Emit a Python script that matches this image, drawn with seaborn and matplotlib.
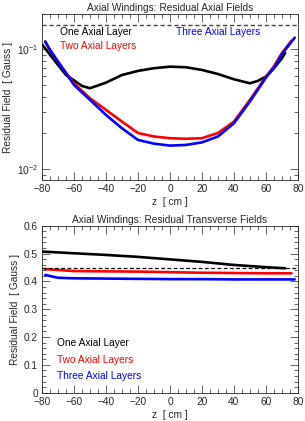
import numpy as np
import pandas as pd
import matplotlib
matplotlib.use("Agg")
import matplotlib.pyplot as plt
from matplotlib.ticker import MultipleLocator, LogLocator, NullFormatter, FixedLocator, FuncFormatter
import seaborn as sns

# top panel: residual axial field [Gauss], log scale
z_one_ax = [-80, -75, -70, -65, -60, -55, -50, -40, -30, -20, -10, 0, 10, 20, 30, 40, 50, 55, 60, 65, 70, 72]
b_one_ax = [0.110, 0.090, 0.074, 0.061, 0.055, 0.0494, 0.0473, 0.0527, 0.061, 0.066, 0.0695, 0.0716, 0.0708,
            0.0672, 0.0622, 0.0562, 0.052, 0.0545, 0.0592, 0.0695, 0.084, 0.093]
z_two_ax = [-78, -75, -70, -65, -60, -50, -40, -30, -20, -10, 0, 10, 20, 30, 40, 50, 60, 65, 70, 76]
b_two_ax = [0.116, 0.0987, 0.0789, 0.0638, 0.052, 0.039, 0.0312, 0.0249, 0.020, 0.0187, 0.0181, 0.0179,
            0.0181, 0.020, 0.0249, 0.0378, 0.059, 0.072, 0.093, 0.118]
z_three_ax = [-78, -75, -70, -65, -60, -50, -40, -30, -20, -10, 0, 10, 20, 30, 40, 50, 60, 65, 70, 78]
b_three_ax = [0.116, 0.0987, 0.0785, 0.063, 0.0504, 0.0378, 0.0283, 0.0219, 0.0175, 0.0163, 0.0157, 0.0159,
              0.0167, 0.0187, 0.0241, 0.0366, 0.058, 0.070, 0.091, 0.125]
axial_ref = 0.16

# bottom panel: residual transverse field [Gauss]
z_one_tr = [-80, -60, -40, -20, 0, 20, 40, 60, 72]
b_one_tr = [0.507, 0.501, 0.495, 0.488, 0.479, 0.470, 0.459, 0.451, 0.447]
z_two_tr = [-78, -60, -40, -20, 0, 20, 40, 60, 76]
b_two_tr = [0.444, 0.437, 0.436, 0.435, 0.433, 0.431, 0.430, 0.429, 0.429]
z_three_tr = [-78, -70, -60, -40, -20, 0, 20, 40, 60, 78]
b_three_tr = [0.423, 0.413, 0.411, 0.410, 0.409, 0.408, 0.408, 0.407, 0.407, 0.407]
trans_ref = 0.447

labels = ["One Axial Layer", "Two Axial Layers", "Three Axial Layers"]
colors = ["black", "red", "blue"]

FS = 7.3

sns.set_style("ticks")
plt.rcParams["font.family"] = ["Liberation Sans", "DejaVu Sans"]
plt.rcParams["mathtext.fontset"] = "custom"
plt.rcParams["mathtext.rm"] = "Liberation Sans"


def make_df(zs, bs):
    rows = []
    for lab, z, b in zip(labels, zs, bs):
        for zi, bi in zip(z, b):
            rows.append((lab, zi, bi))
    return pd.DataFrame(rows, columns=["layers", "z", "B"])


def style_axes(ax):
    ax.tick_params(which="both", direction="in", top=True, right=True, labelsize=FS, pad=3)
    ax.tick_params(which="major", length=6, width=0.5)
    ax.tick_params(which="minor", length=3, width=0.5)
    for s in ax.spines.values():
        s.set_linewidth(0.6)
    ax.set_xlim(-80, 80)
    ax.xaxis.set_major_locator(MultipleLocator(20))
    ax.xaxis.set_minor_locator(MultipleLocator(5))
    ax.set_xlabel("z  [ cm ]", fontsize=FS, labelpad=2)
    ax.set_ylabel("Residual Field  [ Gauss ]", fontsize=FS, labelpad=3)


fig = plt.figure(figsize=(3.05, 4.21), dpi=100)
ax1 = fig.add_axes([0.1377, 0.5724, 0.839, 0.3943])
ax2 = fig.add_axes([0.1377, 0.0672, 0.839, 0.3967])

df_ax = make_df([z_one_ax, z_two_ax, z_three_ax], [b_one_ax, b_two_ax, b_three_ax])
sns.lineplot(data=df_ax, x="z", y="B", hue="layers", palette=colors, hue_order=labels,
             linewidth=1.9, legend=False, ax=ax1)
ax1.axhline(axial_ref, color="#444444", lw=1.0, ls=(0, (3, 2)))
ax1.set_yscale("log")
ax1.set_ylim(0.0081, 0.197)
ax1.yaxis.set_major_locator(FixedLocator([0.01, 0.1]))
ax1.set_yticklabels([r"$10^{-2}$", r"$10^{-1}$"])
ax1.yaxis.set_minor_locator(LogLocator(base=10, subs=np.arange(2, 10)))
ax1.yaxis.set_minor_formatter(NullFormatter())
style_axes(ax1)
ax1.set_title("Axial Windings: Residual Axial Fields", fontsize=FS, pad=2)
ax1.text(0.07, 0.89, labels[0], color=colors[0], transform=ax1.transAxes, fontsize=FS, va="center")
ax1.text(0.07, 0.81, labels[1], color=colors[1], transform=ax1.transAxes, fontsize=FS, va="center")
ax1.text(0.525, 0.89, labels[2], color=colors[2], transform=ax1.transAxes, fontsize=FS, va="center")

df_tr = make_df([z_one_tr, z_two_tr, z_three_tr], [b_one_tr, b_two_tr, b_three_tr])
sns.lineplot(data=df_tr, x="z", y="B", hue="layers", palette=colors, hue_order=labels,
             linewidth=1.9, legend=False, ax=ax2)
ax2.axhline(trans_ref, color="black", lw=0.9, ls=(0, (3, 2)))
ax2.set_ylim(0, 0.6)
ax2.yaxis.set_major_locator(MultipleLocator(0.1))
ax2.yaxis.set_minor_locator(MultipleLocator(0.02))
ax2.yaxis.set_major_formatter(FuncFormatter(lambda v, p: "0" if abs(v) < 1e-9 else f"{v:.1f}"))
style_axes(ax2)
ax2.set_title("Axial Windings: Residual Transverse Fields", fontsize=FS, pad=2)
ax2.text(0.06, 0.295, labels[0], color=colors[0], transform=ax2.transAxes, fontsize=FS, va="center")
ax2.text(0.06, 0.195, labels[1], color=colors[1], transform=ax2.transAxes, fontsize=FS, va="center")
ax2.text(0.06, 0.098, labels[2], color=colors[2], transform=ax2.transAxes, fontsize=FS, va="center")

fig.savefig("out.png", dpi=100)
plt.close(fig)
